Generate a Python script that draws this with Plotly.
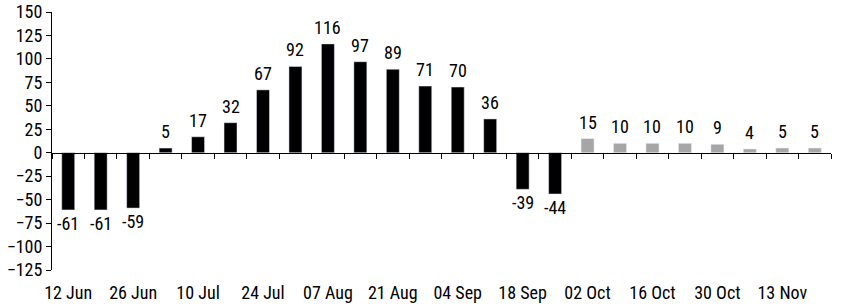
import plotly.graph_objects as go

weeks = ["12 Jun", "19 Jun", "26 Jun", "03 Jul", "10 Jul", "17 Jul", "24 Jul", "31 Jul",
         "07 Aug", "14 Aug", "21 Aug", "28 Aug", "04 Sep", "11 Sep", "18 Sep", "25 Sep",
         "02 Oct", "09 Oct", "16 Oct", "23 Oct", "30 Oct", "06 Nov", "13 Nov", "20 Nov"]
actual = [-61, -61, -59, 5, 17, 32, 67, 92, 116, 97, 89, 71, 70, 36, -39, -44]
forecast = [15, 10, 10, 10, 9, 4, 5, 5]
y_ticks = [150, 125, 100, 75, 50, 25, 0, -25, -50, -75, -100, -125]
label_weeks = weeks[::2]

FONT = "Roboto Condensed, Liberation Sans Narrow, Arial Narrow, sans-serif"
YMIN, YMAX = -125, 150

fig = go.Figure()
fig.add_trace(go.Bar(x=weeks[:len(actual)], y=actual, marker_color="#000000"))
fig.add_trace(go.Bar(x=weeks[len(actual):], y=forecast, marker_color="#A6A6A6"))
# invisible helper to carry the bottom label axis
fig.add_trace(go.Scatter(x=weeks, y=[0] * len(weeks), xaxis="x2", mode="markers",
                         marker=dict(opacity=0), hoverinfo="skip", showlegend=False))

# value labels
for wk, v in zip(weeks, actual + forecast):
    pos = v >= 0
    fig.add_annotation(x=wk, y=v, xref="x", yref="y", text=str(v), showarrow=False,
                       yanchor="bottom" if pos else "top", yshift=4 if pos else -1,
                       font=dict(size=18, family=FONT, color="#000000"))

fig.update_layout(
    width=852, height=308,
    margin=dict(l=52, r=21, t=12, b=38, autoexpand=False),
    paper_bgcolor="white", plot_bgcolor="white",
    showlegend=False, bargap=0.6, barmode="relative",
    font=dict(family=FONT, size=18, color="#000000"),
    xaxis=dict(type="category", categoryarray=weeks, categoryorder="array",
               anchor="free", position=(0 - YMIN) / (YMAX - YMIN),
               showline=True, linecolor="#000000", linewidth=1,
               ticks="outside", tickson="boundaries", ticklen=5, tickcolor="#000000",
               showticklabels=False, showgrid=False, zeroline=False, automargin=False,
               range=[-0.5, len(weeks) - 0.5]),
    xaxis2=dict(type="category", categoryarray=weeks, categoryorder="array",
                overlaying="x", anchor="y", side="bottom",
                tickmode="array", tickvals=label_weeks, ticktext=label_weeks,
                ticks="", showline=False, showgrid=False, zeroline=False, automargin=False,
                range=[-0.5, len(weeks) - 0.5], ticklabelstandoff=10,
                tickfont=dict(size=18, family=FONT)),
    yaxis=dict(range=[YMIN, YMAX], tickmode="array", tickvals=y_ticks,
               showline=True, linecolor="#000000", linewidth=1, automargin=False,
               ticks="outside", ticklen=5, tickcolor="#000000",
               showgrid=False, zeroline=False, tickfont=dict(size=18, family=FONT)),
)
fig.write_html("out.html")
